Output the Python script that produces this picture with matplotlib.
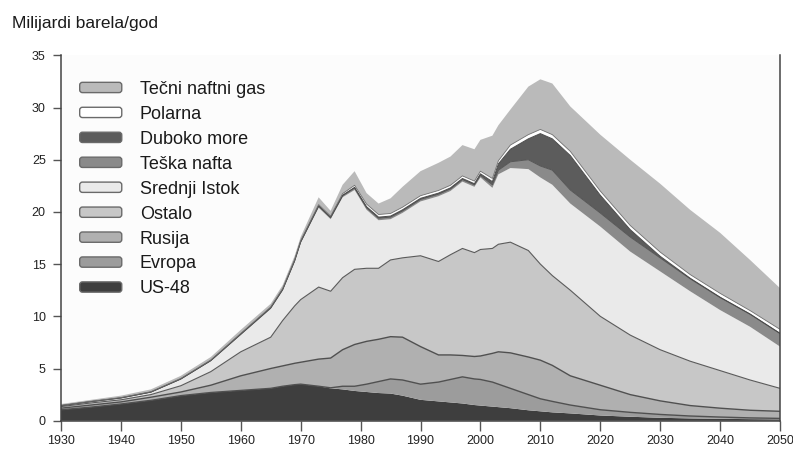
import matplotlib
matplotlib.use('Agg')
import matplotlib.pyplot as plt
from matplotlib.patches import FancyBboxPatch, Patch
from matplotlib.legend_handler import HandlerPatch
import numpy as np

plt.rcParams['font.family'] = ['Liberation Sans', 'DejaVu Sans']

years = [1930, 1935, 1940, 1945, 1950, 1955, 1960, 1965, 1967, 1969, 1970, 1973, 1975, 1977,
         1979, 1981, 1983, 1985, 1987, 1990, 1993, 1995, 1997, 1999, 2000, 2002,
         2003, 2005, 2008, 2010, 2012, 2015, 2020, 2025, 2030, 2035, 2040, 2045, 2050]

us48 = [1.05, 1.30, 1.60, 1.95, 2.40, 2.70, 2.90, 3.10, 3.30, 3.45, 3.50, 3.30, 3.10, 3.00,
        2.85, 2.75, 2.65, 2.60, 2.40, 2.00, 1.85, 1.75, 1.65, 1.50, 1.45, 1.35,
        1.30, 1.20, 1.00, 0.90, 0.80, 0.70, 0.50, 0.38, 0.28, 0.22, 0.18, 0.15, 0.13]
evropa = [0, 0, 0, 0, 0, 0, 0, 0, 0, 0, 0, 0, 0.05, 0.30,
          0.45, 0.75, 1.10, 1.40, 1.50, 1.50, 1.85, 2.20, 2.55, 2.50, 2.50, 2.35,
          2.20, 1.90, 1.50, 1.20, 1.05, 0.80, 0.55, 0.42, 0.32, 0.23, 0.17, 0.12, 0.09]
rusija = [0.15, 0.20, 0.20, 0.30, 0.35, 0.70, 1.40, 1.90, 1.95, 2.05, 2.10, 2.60, 2.85, 3.50,
          4.00, 4.10, 4.05, 4.05, 4.10, 3.60, 2.60, 2.35, 2.05, 2.15, 2.25, 2.75,
          3.10, 3.40, 3.60, 3.70, 3.45, 2.80, 2.35, 1.70, 1.30, 1.00, 0.85, 0.73, 0.68]
ostalo = [0.15, 0.20, 0.20, 0.25, 0.60, 1.30, 2.30, 3.00, 4.35, 5.50, 6.00, 6.90, 6.40, 6.90,
          7.20, 7.00, 6.80, 7.35, 7.60, 8.70, 8.95, 9.60, 10.25, 9.95, 10.20, 10.05,
          10.30, 10.60, 10.20, 9.20, 8.60, 8.20, 6.60, 5.70, 4.90, 4.25, 3.60, 2.90, 2.20]
srednji_istok = [0.07, 0.10, 0.15, 0.20, 0.60, 1.00, 1.60, 2.70, 2.85, 4.20, 5.40, 7.60, 6.90, 7.70,
                 7.60, 5.60, 4.60, 3.90, 4.30, 5.20, 6.25, 6.10, 6.40, 6.30, 6.90, 5.80,
                 6.70, 7.10, 7.80, 8.30, 8.70, 8.30, 8.60, 8.00, 7.50, 6.70, 5.80, 5.10, 4.00]
teska_nafta = [0.02, 0.03, 0.03, 0.04, 0.05, 0.06, 0.08, 0.10, 0.11, 0.12, 0.12, 0.15, 0.15, 0.15,
               0.20, 0.20, 0.20, 0.20, 0.20, 0.20, 0.20, 0.20, 0.20, 0.20, 0.20, 0.30,
               0.40, 0.60, 0.90, 1.10, 1.40, 1.30, 1.30, 1.40, 1.30, 1.20, 1.20, 1.20, 1.25]
duboko_more = [0, 0, 0, 0, 0, 0, 0.02, 0.02, 0.02, 0.03, 0.03, 0.05, 0.05, 0.05,
               0.05, 0.10, 0.10, 0.10, 0.10, 0.10, 0.10, 0.10, 0.10, 0.10, 0.15, 0.30,
               0.60, 1.20, 2.00, 3.10, 3.00, 3.30, 1.70, 0.70, 0.15, 0.05, 0.03, 0.02, 0.02]
polarna = [0.03, 0.03, 0.04, 0.04, 0.05, 0.06, 0.06, 0.08, 0.09, 0.10, 0.10, 0.10, 0.10, 0.15,
           0.20, 0.25, 0.25, 0.25, 0.25, 0.25, 0.25, 0.25, 0.25, 0.25, 0.25, 0.30,
           0.30, 0.40, 0.40, 0.40, 0.40, 0.40, 0.40, 0.40, 0.40, 0.35, 0.37, 0.33, 0.38]
tecni_gas = [0.13, 0.14, 0.18, 0.22, 0.25, 0.28, 0.34, 0.30, 0.32, 0.35, 0.35, 0.70, 0.50, 0.85,
             1.35, 1.05, 1.05, 1.45, 1.95, 2.35, 2.65, 2.75, 2.95, 3.05, 3.00, 4.10,
             3.40, 3.40, 4.60, 4.80, 4.90, 4.30, 5.40, 6.30, 6.55, 6.20, 5.80, 4.85, 3.95]

labels = ['US-48', 'Evropa', 'Rusija', 'Ostalo', 'Srednji Istok',
          'Teška nafta', 'Duboko more', 'Polarna', 'Tečni naftni gas']
colors = ['#3e3e3e', '#9c9c9c', '#b0b0b0', '#c7c7c7', '#eaeaea',
          '#8a8a8a', '#5c5c5c', '#ffffff', '#bababa']
series = [us48, evropa, rusija, ostalo, srednji_istok, teska_nafta,
          duboko_more, polarna, tecni_gas]

x_ticks = [1930, 1940, 1950, 1960, 1970, 1980, 1990, 2000, 2010, 2020, 2030, 2040, 2050]
y_ticks = [0, 5, 10, 15, 20, 25, 30, 35]

fig = plt.figure(figsize=(7.93, 4.51), dpi=100)
ax = fig.add_axes([61 / 793, 30.3 / 451, 719 / 793, 365.4 / 451])
ax.set_facecolor('#fcfcfc')

ax.stackplot(years, *series, colors=colors, linewidth=0)

stack = np.cumsum(np.array(series, dtype=float), axis=0)
line_style = {1: ('#505050', 1.0), 2: ('#505050', 1.0), 3: ('#5a5a5a', 0.8),
              5: ('#555555', 0.7), 6: ('#4a4a4a', 0.7), 7: ('#707070', 0.6)}
for idx, (c, lw) in line_style.items():
    ax.plot(years, stack[idx], color=c, linewidth=lw)

ax.set_xlim(1930, 2050)
ax.set_ylim(0, 35)
ax.set_xticks(x_ticks)
ax.set_yticks(y_ticks)
ax.tick_params(axis='x', direction='out', length=7, width=1, color='#555555',
               labelsize=9, pad=3, labelcolor='#222222')
ax.tick_params(axis='y', direction='out', length=6, width=1, color='#555555',
               labelsize=9, pad=5, labelcolor='#222222')
for s in ['left', 'bottom', 'right']:
    ax.spines[s].set_color('#444444')
    ax.spines[s].set_linewidth(1.1)
ax.spines['top'].set_visible(False)


class RoundHandler(HandlerPatch):
    def create_artists(self, legend, orig_handle, xdescent, ydescent, width,
                       height, fontsize, trans):
        p = FancyBboxPatch((-xdescent, -ydescent), width, height,
                           boxstyle='round,pad=0,rounding_size=2',
                           facecolor=orig_handle.get_facecolor(),
                           edgecolor='#6a6a6a', linewidth=1.0, transform=trans)
        return [p]


handles = [Patch(facecolor=colors[i], label=labels[i]) for i in range(len(labels))][::-1]
leg = ax.legend(handles=handles, loc='upper left', bbox_to_anchor=(0.026, 0.93),
                frameon=False, fontsize=13, handlelength=2.33, handleheight=0.5,
                handletextpad=1.0, labelspacing=0.44, borderaxespad=0, borderpad=0,
                handler_map={Patch: RoundHandler()})
for t in leg.get_texts():
    t.set_color('#1a1a1a')

fig.text(12 / 793, 1 - 28 / 451, 'Milijardi barela/god', fontsize=12.5,
         color='#1a1a1a', va='baseline', ha='left')

fig.savefig('out.png', dpi=100, facecolor='white')
